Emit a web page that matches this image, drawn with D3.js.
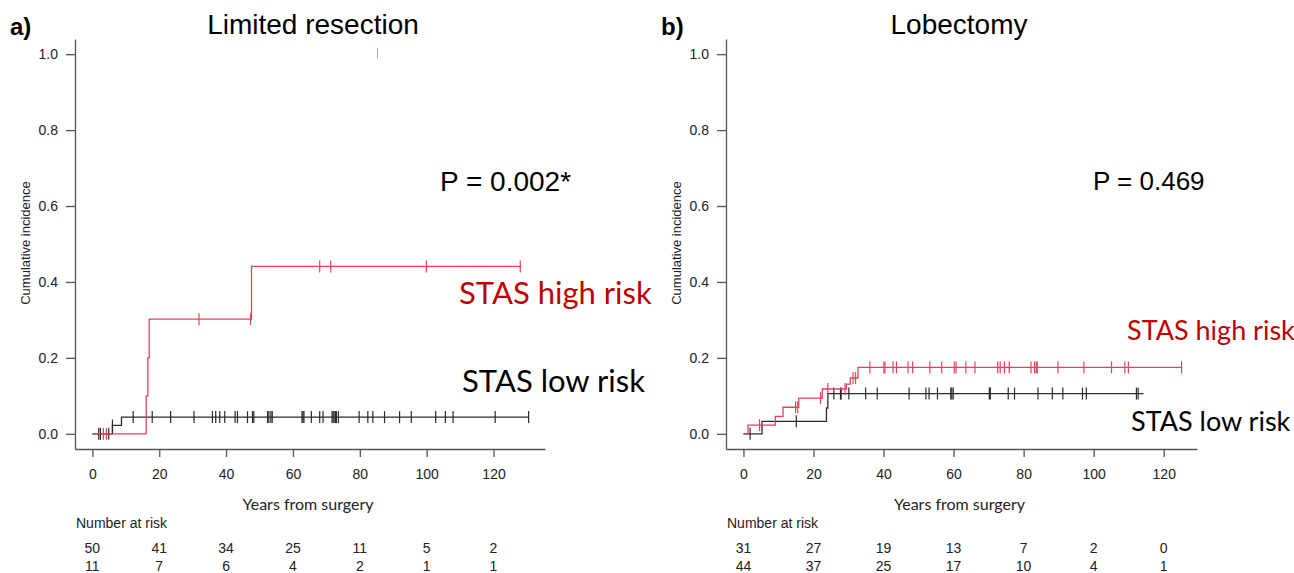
<!DOCTYPE html>
<html>
<head>
<meta charset="utf-8">
<script src="https://cdn.jsdelivr.net/npm/d3@7"></script>
<style>
  body { margin: 0; background: #fff; }
  svg { display: block; }
</style>
</head>
<body>
<svg class="chart" width="1294" height="573"></svg>
<script>
const xTicks = [0, 20, 40, 60, 80, 100, 120]
const yTicks = [0, 0.2, 0.4, 0.6, 0.8, 1.0]

// a) Limited resection
const limHighEvents = [[16.1, 0.1], [16.6, 0.2], [17.0, 0.302], [47.6, 0.441]]
const limHighCensor = [3.3, 4.2, 31.9, 47.3, 68.0, 71.3, 99.9, 128.0]
const limHighEnd = 128.3
const limLowEvents = [[6.0, 0.022], [8.7, 0.044]]
const limLowCensor = [1.9, 2.4, 4.9, 6.0, 12.2, 17.9, 23.4, 30.4, 35.9, 36.9, 38.1, 39.6,
  42.7, 43.4, 46.4, 47.9, 48.3, 52.4, 52.8, 53.4, 53.8, 62.7, 63.0, 63.3, 65.5, 68.0,
  69.0, 71.7, 72.0, 72.3, 72.7, 73.0, 73.6, 79.8, 82.4, 83.9, 87.4, 91.9, 95.4, 102.7,
  105.6, 107.9, 120.5, 130.5]
const limLowEnd = 130.5
const limStray = [[85.3, 1.0]]
const limRiskLow = [50, 41, 34, 25, 11, 5, 2]
const limRiskHigh = [11, 7, 6, 4, 2, 1, 1]

// b) Lobectomy
const lobHighEvents = [[1.3, 0.023], [9.1, 0.046], [11.3, 0.07], [15.8, 0.094], [22.5, 0.118],
  [29.4, 0.131], [30.5, 0.147], [32.7, 0.175]]
const lobHighCensor = [4.6, 14.9, 15.5, 22.0, 24.1, 29.0, 31.3, 32.0, 36.1, 40.1, 40.4, 42.7,
  43.7, 47.0, 48.3, 53.2, 56.6, 60.2, 60.7, 63.5, 66.1, 72.6, 73.3, 74.5, 75.9, 82.1, 83.1,
  83.6, 83.9, 89.8, 97.2, 105.1, 108.9, 109.9, 125.1]
const lobHighEnd = 125.1
const lobLowEvents = [[5.3, 0.033], [23.7, 0.068], [24.1, 0.106]]
const lobLowCensor = [1.9, 15.1, 25.8, 27.7, 27.9, 30.1, 34.9, 38.2, 47.3, 52.1, 53.0, 55.4,
  59.2, 59.5, 59.9, 70.2, 70.5, 75.6, 77.4, 84.1, 88.2, 91.2, 96.8, 97.9, 112.2, 112.7]
const lobLowEnd = 114.2
const lobRiskLow = [31, 27, 19, 13, 7, 2, 0]
const lobRiskHigh = [44, 37, 25, 17, 10, 4, 1]

const redLine = '#e8405c'
const redText = '#c00000'
const blackLine = '#2b2b2b'
const axisColor = '#555'

const svg = d3.select('.chart')

const panels = [
  {
    letter: 'a)', title: 'Limited resection', pval: 'P = 0.002*',
    left: 75, right: 545, xmax: 135.4, xmin: -5.2, titleX: 313,
    high: {events: limHighEvents, censor: limHighCensor, end: limHighEnd},
    low: {events: limLowEvents, censor: limLowCensor, end: limLowEnd},
    stray: limStray,
    riskTop: limRiskLow, riskBottom: limRiskHigh,
    pPos: [440, 181], highPos: [459, 293], lowPos: [462, 381], labelSize: 31, pSize: 28
  },
  {
    letter: 'b)', title: 'Lobectomy', pval: 'P = 0.469',
    left: 726, right: 1197, xmax: 129.5, xmin: -4.98, titleX: 959,
    high: {events: lobHighEvents, censor: lobHighCensor, end: lobHighEnd},
    low: {events: lobLowEvents, censor: lobLowCensor, end: lobLowEnd},
    stray: [],
    riskTop: lobRiskLow, riskBottom: lobRiskHigh,
    pPos: [1093, 181], highPos: [1127, 331], lowPos: [1131, 422], labelSize: 27, pSize: 26
  }
]

const yScale = d3.scaleLinear().domain([-0.04, 1.04]).range([449, 39])

const levelAt = (events, t) => {
  let v = 0
  events.forEach(e => { if (e[0] <= t) v = e[1] })
  return v
}

panels.forEach(p => {
  const xScale = d3.scaleLinear().domain([p.xmin, p.xmax]).range([p.left, p.right])
  const g = svg.append('g')

  // axes
  const yAxis = g.append('g')
    .attr('transform', `translate(${p.left},0)`)
    .call(d3.axisLeft(yScale).tickValues(yTicks).tickFormat(d3.format('.1f'))
      .tickSize(9).tickSizeOuter(0).tickPadding(8))
  const xAxis = g.append('g')
    .attr('transform', `translate(0,449)`)
    .call(d3.axisBottom(xScale).tickValues(xTicks).tickSize(8).tickSizeOuter(0).tickPadding(12))
  ;[yAxis, xAxis].forEach(a => {
    a.selectAll('path, line').attr('stroke', axisColor).attr('stroke-width', 1.3)
    a.selectAll('text').attr('fill', '#222')
      .style('font-family', '"Liberation Sans", Arial, sans-serif').style('font-size', '14px')
  })

  const line = d3.line()
    .x(d => xScale(d[0]))
    .y(d => yScale(d[1]))
    .curve(d3.curveStepAfter)

  const drawCurve = (s, color) => {
    const pts = [[0, 0]].concat(s.events)
    pts.push([s.end, s.events[s.events.length - 1][1]])
    g.append('path').datum(pts)
      .attr('d', line)
      .attr('fill', 'none')
      .attr('stroke', color)
      .attr('stroke-width', 1.3)
    g.selectAll(null).data(s.censor).enter().append('line')
      .attr('x1', d => xScale(d)).attr('x2', d => xScale(d))
      .attr('y1', d => yScale(levelAt(s.events, d)) - 6)
      .attr('y2', d => yScale(levelAt(s.events, d)) + 6)
      .attr('stroke', color).attr('stroke-width', 1.2)
  }
  drawCurve(p.low, blackLine)
  drawCurve(p.high, redLine)

  g.selectAll(null).data(p.stray).enter().append('line')
    .attr('x1', d => xScale(d[0])).attr('x2', d => xScale(d[0]))
    .attr('y1', d => yScale(d[1]) - 6).attr('y2', d => yScale(d[1]) + 4)
    .attr('stroke', '#aaa').attr('stroke-width', 1)

  // texts
  const sans = '"Liberation Sans", Arial, sans-serif'
  const cal = 'Lato, "Open Sans", sans-serif'
  g.append('text').attr('x', p.left - 65).attr('y', 35).text(p.letter)
    .style('font-family', sans).style('font-weight', 'bold').style('font-size', '24px')
  g.append('text').attr('x', p.titleX).attr('y', 34).text(p.title)
    .attr('text-anchor', 'middle')
    .style('font-family', sans).style('font-size', '28px')
  g.append('text').attr('x', p.pPos[0]).attr('y', p.pPos[1]).attr('dy', '0.35em').text(p.pval)
    .style('font-family', sans).style('font-size', p.pSize + 'px')
  g.append('text').attr('x', p.highPos[0]).attr('y', p.highPos[1]).attr('dy', '0.35em')
    .text('STAS high risk').attr('fill', redText)
    .style('font-family', cal).style('font-size', p.labelSize + 'px')
  g.append('text').attr('x', p.lowPos[0]).attr('y', p.lowPos[1]).attr('dy', '0.35em')
    .text('STAS low risk').attr('fill', '#000')
    .style('font-family', cal).style('font-size', p.labelSize + 'px')

  g.append('text')
    .attr('transform', `translate(${p.left - 50},243) rotate(-90)`)
    .attr('text-anchor', 'middle').attr('dy', '0.35em')
    .text('Cumulative incidence')
    .style('font-family', sans).style('font-size', '13px').attr('fill', '#222')
  g.append('text').attr('x', (p.left + p.right) / 2 - 2).attr('y', 504).attr('dy', '0.35em')
    .attr('text-anchor', 'middle').text('Years from surgery')
    .style('font-family', cal).style('font-size', '16px').attr('fill', '#222')
  g.append('text').attr('x', p.left + 1).attr('y', 523).attr('dy', '0.35em')
    .text('Number at risk')
    .style('font-family', sans).style('font-size', '14px').attr('fill', '#222')

  ;[[p.riskTop, 548], [p.riskBottom, 566]].forEach(([row, y]) => {
    g.selectAll(null).data(row).enter().append('text')
      .attr('x', (d, i) => xScale(xTicks[i])).attr('y', y).attr('dy', '0.35em')
      .attr('text-anchor', 'middle').text(d => d)
      .style('font-family', sans).style('font-size', '14px').attr('fill', '#222')
  })
})
</script>
</body>
</html>
